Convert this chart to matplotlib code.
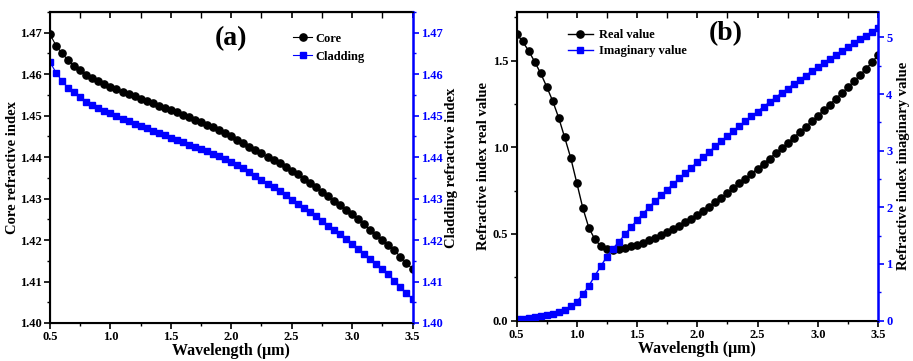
import numpy as np
import matplotlib.pyplot as plt
from matplotlib.ticker import MultipleLocator, NullFormatter

plt.rcParams['font.family'] = ['Liberation Serif', 'DejaVu Serif']
plt.rcParams['font.weight'] = 'bold'
plt.rcParams['axes.labelweight'] = 'bold'

# wavelength grid (um), 0.05 step
wl = np.linspace(0.5, 3.5, 61)

# panel (a)
core = [1.4696, 1.4669, 1.4650, 1.4634, 1.4619, 1.4609, 1.4599, 1.4591, 1.4583, 1.4576,
        1.4570, 1.4564, 1.4558, 1.4553, 1.4547, 1.4541, 1.4535, 1.4530, 1.4524, 1.4519,
        1.4513, 1.4508, 1.4502, 1.4496, 1.4490, 1.4484, 1.4478, 1.4472, 1.4465, 1.4457,
        1.4450, 1.4442, 1.4435, 1.4425, 1.4417, 1.4409, 1.4401, 1.4393, 1.4385, 1.4377,
        1.4367, 1.4359, 1.4348, 1.4338, 1.4327, 1.4316, 1.4306, 1.4294, 1.4284, 1.4272,
        1.4262, 1.4250, 1.4238, 1.4225, 1.4213, 1.4199, 1.4187, 1.4175, 1.4160, 1.4145,
        1.4130]
cladding = [1.4629, 1.4604, 1.4583, 1.4567, 1.4556, 1.4545, 1.4534, 1.4526, 1.4518, 1.4512,
            1.4506, 1.4498, 1.4491, 1.4486, 1.4480, 1.4475, 1.4470, 1.4464, 1.4458, 1.4453,
            1.4447, 1.4441, 1.4436, 1.4430, 1.4425, 1.4419, 1.4414, 1.4408, 1.4402, 1.4395,
            1.4388, 1.4381, 1.4373, 1.4364, 1.4354, 1.4344, 1.4336, 1.4327, 1.4318, 1.4308,
            1.4297, 1.4288, 1.4278, 1.4268, 1.4258, 1.4247, 1.4235, 1.4225, 1.4215, 1.4203,
            1.4190, 1.4179, 1.4167, 1.4155, 1.4142, 1.4130, 1.4118, 1.4102, 1.4087, 1.4072,
            1.4058]

# panel (b)
real_val = [1.655, 1.610, 1.557, 1.494, 1.427, 1.350, 1.267, 1.170, 1.056, 0.938,
            0.795, 0.650, 0.536, 0.468, 0.429, 0.411, 0.407, 0.411, 0.418, 0.427,
            0.437, 0.449, 0.462, 0.477, 0.493, 0.510, 0.528, 0.547, 0.567, 0.588,
            0.610, 0.633, 0.657, 0.682, 0.708, 0.735, 0.763, 0.791, 0.819, 0.847,
            0.876, 0.905, 0.934, 0.964, 0.994, 1.024, 1.055, 1.086, 1.117, 1.149,
            1.181, 1.213, 1.246, 1.279, 1.312, 1.346, 1.380, 1.415, 1.452, 1.490,
            1.530]
imag_val = [0.030, 0.035, 0.047, 0.058, 0.076, 0.100, 0.120, 0.150, 0.190, 0.250,
            0.330, 0.460, 0.610, 0.790, 0.960, 1.130, 1.270, 1.390, 1.520, 1.650,
            1.770, 1.890, 2.000, 2.110, 2.210, 2.310, 2.410, 2.510, 2.610, 2.700,
            2.800, 2.890, 2.980, 3.080, 3.170, 3.260, 3.350, 3.437, 3.523, 3.608,
            3.692, 3.775, 3.857, 3.938, 4.018, 4.097, 4.175, 4.252, 4.328, 4.403,
            4.477, 4.550, 4.622, 4.693, 4.763, 4.832, 4.899, 4.966, 5.031, 5.096,
            5.160]

blue = '#0000ff'
fs_tick = 9
fs_lab = 10.5


def style_axes(ax, ax2):
    ax.set_xlim(0.5, 3.5)
    ax.xaxis.set_major_locator(MultipleLocator(0.5))
    ax.xaxis.set_minor_locator(MultipleLocator(0.25))
    ax.tick_params(axis='both', which='both', direction='out', top=False, right=False,
                   labelsize=fs_tick, pad=2)
    ax.tick_params(which='major', length=4, width=1.2)
    ax.tick_params(which='minor', length=2.5, width=1.0)
    for s in ['left', 'bottom', 'top']:
        ax.spines[s].set_linewidth(1.5)
    ax2.spines['right'].set_color(blue)
    ax2.spines['right'].set_linewidth(1.8)
    ax2.tick_params(axis='y', which='both', colors=blue, direction='out',
                    labelsize=fs_tick, pad=2)
    ax2.tick_params(which='major', length=4, width=1.2)
    ax2.tick_params(which='minor', length=2.5, width=1.0)
    ax.set_xlabel('Wavelength (\u03bcm)', fontsize=11.5, labelpad=0)
    # top axis: inward ticks, no labels
    top = ax.secondary_xaxis('top')
    top.xaxis.set_major_locator(MultipleLocator(0.5))
    top.xaxis.set_minor_locator(MultipleLocator(0.25))
    top.xaxis.set_major_formatter(NullFormatter())
    top.tick_params(which='both', direction='in')
    top.tick_params(which='major', length=4, width=1.2)
    top.tick_params(which='minor', length=4, width=1.0)
    top.spines['top'].set_linewidth(1.5)


fig = plt.figure(figsize=(9.13, 3.61), dpi=100)

# ---- (a)
ax = fig.add_axes([50 / 913, 38 / 361, 362.5 / 913, 311 / 361])
ax2 = ax.twinx()
ax.plot(wl, core, '-o', color='black', lw=0.8, ms=5.2, label='Core')
ax2.plot(wl, cladding, '-s', color=blue, lw=0.8, ms=4.4, label='Cladding')
ax.set_ylim(1.40, 1.475)
ax2.set_ylim(1.40, 1.475)
for a in (ax, ax2):
    a.yaxis.set_major_locator(MultipleLocator(0.01))
    a.yaxis.set_minor_locator(MultipleLocator(0.005))
style_axes(ax, ax2)
ax.set_ylabel('Core refractive index', fontsize=fs_lab, labelpad=1)
ax2.set_ylabel('Cladding refractive index', fontsize=fs_lab, labelpad=2)
h1, l1 = ax.get_legend_handles_labels()
h2, l2 = ax2.get_legend_handles_labels()
ax.legend(h1 + h2, l1 + l2, loc='upper left', bbox_to_anchor=(0.64, 0.97), frameon=False,
          fontsize=9, handlelength=1.5, handletextpad=0.3, labelspacing=0.5)
ax.text(0.5, 0.915, '(a)', transform=ax.transAxes, ha='center', va='center',
        fontsize=20, fontweight='bold')

# ---- (b)
bx = fig.add_axes([516.5 / 913, 40.5 / 361, 361.5 / 913, 308.5 / 361])
bx2 = bx.twinx()
bx.plot(wl, real_val, '-o', color='black', lw=1.0, ms=5.2, label='Real value')
bx2.plot(wl, imag_val, '-s', color=blue, lw=1.0, ms=4.4, label='Imaginary value')
bx.set_ylim(0, 1.78)
bx2.set_ylim(0, 5.45)
bx.yaxis.set_major_locator(MultipleLocator(0.5))
bx.yaxis.set_minor_locator(MultipleLocator(0.25))
bx2.yaxis.set_major_locator(MultipleLocator(1))
bx2.yaxis.set_minor_locator(MultipleLocator(0.5))
style_axes(bx, bx2)
bx.set_ylabel('Refractive index real value', fontsize=fs_lab, labelpad=2)
bx2.set_ylabel('Refractive index imaginary value', fontsize=fs_lab, labelpad=3)
h1, l1 = bx.get_legend_handles_labels()
h2, l2 = bx2.get_legend_handles_labels()
bx.legend(h1 + h2, l1 + l2, loc='upper left', bbox_to_anchor=(0.11, 0.98), frameon=False,
          fontsize=9, handlelength=2.0, handletextpad=0.5, labelspacing=0.3)
bx.text(0.58, 0.93, '(b)', transform=bx.transAxes, ha='center', va='center',
        fontsize=20, fontweight='bold')

fig.savefig('out.png', dpi=100)
